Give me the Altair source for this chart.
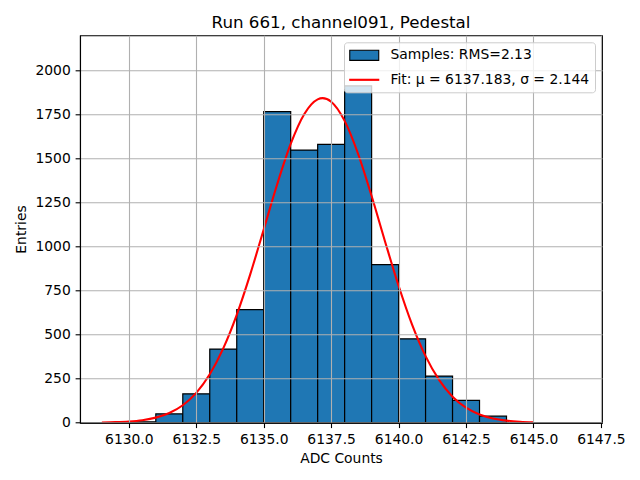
import altair as alt
import pandas as pd

# Histogram bins (left edges, width 1) and counts
bin_starts = [6130, 6131, 6132, 6133, 6134, 6135, 6136, 6137, 6138, 6139, 6140, 6141, 6142, 6143]
bin_counts = [5, 50, 164, 418, 642, 1766, 1548, 1580, 1913, 898, 476, 265, 127, 37]

# Fit curve
fit_x = [6129.0, 6129.5, 6130.0, 6130.5, 6131.0, 6131.5, 6132.0, 6132.5, 6133.0, 6133.5,
         6134.0, 6134.5, 6135.0, 6135.5, 6136.0, 6136.5, 6137.0, 6137.183, 6137.5, 6138.0,
         6138.5, 6139.0, 6139.5, 6140.0, 6140.5, 6141.0, 6141.5, 6142.0, 6142.5, 6143.0,
         6143.5, 6144.0, 6144.5, 6145.0]
fit_y = [1.3, 3.0, 6.7, 14.3, 28.8, 54.9, 99.2, 169.5, 274.8, 421.7,
         612.3, 842.2, 1097.5, 1354.4, 1582.8, 1751.8, 1836.3, 1843.0, 1822.9, 1714.0,
         1526.0, 1287.0, 1027.8, 777.4, 556.8, 377.8, 242.7, 147.6, 85.1, 46.4,
         24.0, 11.8, 5.4, 2.4]

x_ticks = [6130.0, 6132.5, 6135.0, 6137.5, 6140.0, 6142.5, 6145.0, 6147.5]
y_ticks = [0, 250, 500, 750, 1000, 1250, 1500, 1750, 2000]

label_samples = "Samples: RMS=2.13"
label_fit = "Fit: μ = 6137.183, σ = 2.144"
series_domain = [label_samples, label_fit]

bars = pd.DataFrame({
    "start": bin_starts,
    "end": [s + 1 for s in bin_starts],
    "count": bin_counts,
})
fit = pd.DataFrame({"x": fit_x, "y": fit_y})
legend_df = pd.DataFrame({"series": series_domain})

FONT = "DejaVu Sans"
BLUE = "#1f77b4"
x_scale = alt.Scale(domain=[6128.19, 6147.54], nice=False, zero=False)
y_scale = alt.Scale(domain=[0, 2200], nice=False)

x_axis = alt.Axis(values=x_ticks, format=".1f", title="ADC Counts", labelFlush=False,
                  labelOverlap=False, zindex=1, titlePadding=5)
y_axis = alt.Axis(values=y_ticks, format="d", title="Entries", labelOverlap=False,
                  zindex=1, titlePadding=6)

# legend handles: wide box for the histogram, thin bar for the fit line
rect_path = "M-1,-0.7H3V0.7H-1Z"
line_path = "M-1,-0.07H3V0.07H-1Z"

legend = alt.Legend(
    title=None, orient="top-right", offset=7, padding=5,
    fillColor="rgba(255,255,255,0.8)", strokeColor="#cccccc", cornerRadius=3,
    labelFont=FONT, labelFontSize=13.9, labelColor="black", labelLimit=400,
    symbolSize=210, labelOffset=25.5, rowPadding=8.5, zindex=2,
    symbolOpacity=1, symbolStrokeWidth=1.1,
)

bar_layer = alt.Chart(bars).mark_bar(fill=BLUE, stroke="black", strokeWidth=1.2, opacity=1).encode(
    x=alt.X("start:Q", scale=x_scale, axis=x_axis),
    x2="end:Q",
    y=alt.Y("count:Q", scale=y_scale, axis=y_axis),
    y2=alt.datum(0),
)
line_layer = alt.Chart(fit).mark_line(color="red", strokeWidth=2.1, interpolate="monotone").encode(
    x=alt.X("x:Q", scale=x_scale),
    y=alt.Y("y:Q", scale=y_scale),
)
legend_layer = alt.Chart(legend_df).mark_point(filled=True, size=0, opacity=1).encode(
    x=alt.value(0),
    y=alt.value(0),
    shape=alt.Shape("series:N", scale=alt.Scale(domain=series_domain, range=[rect_path, line_path]),
                    legend=legend),
    fill=alt.Fill("series:N", scale=alt.Scale(domain=series_domain, range=[BLUE, "red"]),
                  legend=legend),
    stroke=alt.Stroke("series:N", scale=alt.Scale(domain=series_domain, range=["black", "red"]),
                      legend=legend),
)

chart = alt.layer(bar_layer, line_layer, legend_layer).properties(
    width=522, height=387.4,
    title=alt.TitleParams("Run 661, channel091, Pedestal", anchor="middle", frame="group",
                          font=FONT, fontSize=16.7, fontWeight="normal", color="black",
                          baseline="bottom", offset=-17.5),
    autosize=alt.AutoSizeParams(type="none"),
    padding={"left": 72, "top": 27.3, "right": 30, "bottom": 58},
).configure_view(
    stroke="black", strokeWidth=1.1
).configure_axis(
    labelFont=FONT, labelFontSize=13.9, labelColor="black",
    titleFont=FONT, titleFontSize=13.9, titleFontWeight="normal", titleColor="black",
    tickColor="black", tickSize=4.9, tickWidth=1.1,
    domainColor="black", domainWidth=1.1,
    gridColor="#b0b0b0", gridWidth=1.1, labelPadding=4.9,
)

chart.save("out.html", embed_options={"renderer": "svg", "actions": False})
